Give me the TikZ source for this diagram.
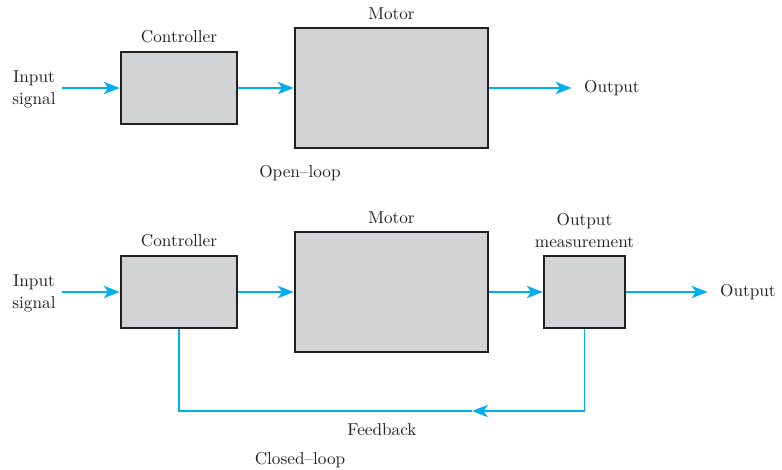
\documentclass[tikz,border=0pt]{standalone}
\usepackage{tikz}
\usetikzlibrary{arrows.meta, positioning}

\definecolor{flowblue}{RGB}{0,174,239}
\definecolor{boxgray}{RGB}{209,211,212}
\definecolor{boxline}{RGB}{35,31,32}

\begin{document}
\begin{tikzpicture}[
    x=0.02cm, y=-0.02cm,
    every node/.style={font=\fontsize{9.8}{12.5}\selectfont, text=boxline},
    block/.style={draw=boxline, fill=boxgray, line width=1.6pt},
    ctrlbox/.style={block, minimum width=2.32cm, minimum height=1.44cm},
    motorbox/.style={block, minimum width=3.86cm, minimum height=2.4cm},
    measbox/.style={block, minimum width=1.62cm, minimum height=1.44cm},
    arrow/.style={-{Stealth[length=9pt, width=7pt, inset=2.5pt]}, flowblue, line width=1.1pt},
    line/.style={flowblue, line width=1.1pt},
    tag/.style={align=center, inner sep=1pt},
]
\useasboundingbox (0,0) rectangle (782,470);

% Open-loop
\node[tag] (in1) at (34,89) {Input\\signal};
\node[ctrlbox] (ctrl1) at (179,88) {};
\node[motorbox] (motor1) at (391.5,88) {};
\node[tag, anchor=west] (out1) at (582,88) {Output};
\node[tag, above=3pt of ctrl1] {Controller};
\node[tag, above=3pt of motor1] {Motor};
\node[tag] (open) at (300,173) {Open--loop};

\draw[arrow] (in1.east |- ctrl1) ++(4,0) coordinate (in1end) -- (ctrl1.west);
\draw[arrow] (ctrl1) -- (motor1);
\draw[arrow] (motor1.east) -- ([xshift=-6pt]out1.west);

% Closed-loop
\node[tag] (in2) at (34,293) {Input\\signal};
\node[ctrlbox] (ctrl2) at (179,292) {};
\node[motorbox] (motor2) at (391.5,292) {};
\node[measbox] (meas) at (584.5,292) {};
\node[tag, anchor=west] (out2) at (718,292) {Output};
\node[tag, above=3pt of ctrl2] {Controller};
\node[tag, above=3pt of motor2] {Motor};
\node[tag, above=3pt of meas] {Output\\measurement};
\node[tag] (closed) at (300,460) {Closed--loop};

\draw[arrow] (in2.east |- ctrl2) ++(4,0) coordinate (in2end) -- (ctrl2.west);
\draw[arrow] (ctrl2) -- (motor2);
\draw[arrow] (motor2) -- (meas);
\draw[arrow] (meas.east) -- ([xshift=-6pt]out2.west);

% Feedback path
\coordinate (fbtip) at (472,411);
\draw[arrow] (meas.south) |- (fbtip);
\draw[line] (fbtip) -| (ctrl2.south);
\node[tag] (fb) at (382,430) {Feedback};

\end{tikzpicture}
\end{document}
